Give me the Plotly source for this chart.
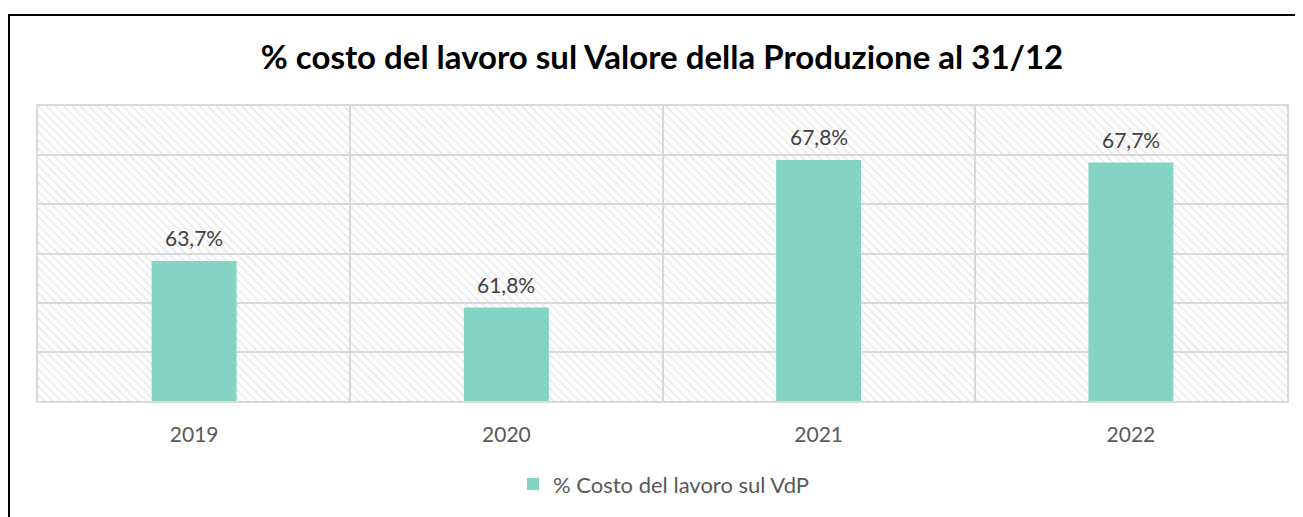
import plotly.graph_objects as go

categories = ["2019", "2020", "2021", "2022"]
values = [63.7, 61.8, 67.8, 67.7]
series_name = "% Costo del lavoro sul VdP"
title_text = "% costo del lavoro sul Valore della Produzione al 31/12"

Y_MIN, Y_MAX, Y_STEP = 58, 70, 2
BAR_COLOR = "#84D4C5"
FONT = "Lato"

# page has an 8px body margin; figure sized so the plot lands where the reference has it
FIG_W, FIG_H = 1295, 509
L, R, T, B = 30, 1279, 98, 396  # plot area in figure pixels
W, H = R - L, B - T

fig = go.Figure()

# hatched plot background (decorative): one full-height band per category slot
fig.add_trace(go.Bar(
    x=categories, y=[Y_MAX - Y_MIN] * len(categories), base=Y_MIN, width=1,
    marker=dict(color="rgba(0,0,0,0)", line=dict(width=0),
                pattern=dict(shape="\\", fgcolor="#d6d6d6", bgcolor="rgba(0,0,0,0)",
                             size=6, solidity=0.3)),
    hoverinfo="skip", showlegend=False,
))

fig.add_trace(go.Bar(
    x=categories, y=values, name=series_name,
    marker=dict(color=BAR_COLOR, line=dict(width=0)),
    width=0.272,
))

for i, v in enumerate(values):
    fig.add_annotation(
        x=i, y=v, text=(f"{v:.1f}%").replace(".", ","),
        showarrow=False, yanchor="bottom", yshift=9,
        font=dict(family=FONT, size=21, color="#404040"),
    )

fig.update_layout(
    width=FIG_W, height=FIG_H,
    margin=dict(l=L, r=FIG_W - R, t=T, b=FIG_H - B),
    paper_bgcolor="white", plot_bgcolor="white",
    barmode="overlay",
    separators=",.",
    title=dict(text=f"<b>{title_text}</b>", x=(662 - 8) / FIG_W, xanchor="center",
               y=1 - 49 / FIG_H, yanchor="middle", yref="container",
               font=dict(family=FONT, size=33, color="black")),
    showlegend=True,
    legend=dict(orientation="h", x=(664 - 8 - L) / W, xanchor="center",
                y=(B - 480) / H, yanchor="middle",
                font=dict(family=FONT, size=22, color="#595959"),
                itemwidth=30),
    xaxis=dict(type="category", tickson="boundaries", showgrid=True,
               gridcolor="#d9d9d9", gridwidth=1.5,
               showline=True, linecolor="#d9d9d9", linewidth=2, mirror=True,
               ticks="", ticklabelstandoff=14,
               tickfont=dict(family=FONT, size=21, color="#595959"),
               range=[-0.5, 3.5]),
    yaxis=dict(range=[Y_MIN, Y_MAX], dtick=Y_STEP, tick0=Y_MIN, showgrid=True,
               gridcolor="#d9d9d9", gridwidth=1.5, showticklabels=False,
               showline=True, linecolor="#d9d9d9", linewidth=1.5, mirror=True,
               zeroline=False, ticks=""),
)

# outer chart frame (page x=9, y=14; right/bottom edges run past the window)
fig.add_shape(type="rect", xref="paper", yref="paper",
              x0=(1 - L) / W, x1=(FIG_W + 20 - L) / W,
              y0=(B - FIG_H - 20) / H, y1=(B - 6) / H,
              line=dict(color="black", width=2), fillcolor="rgba(0,0,0,0)", layer="below")

fig.write_html("out.html")
